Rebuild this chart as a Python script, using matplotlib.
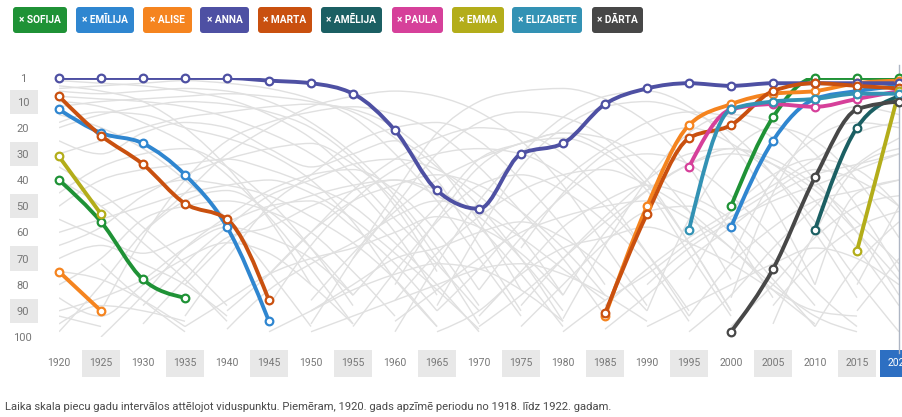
import matplotlib
matplotlib.use("Agg")
import matplotlib.pyplot as plt
import numpy as np
from matplotlib.path import Path
from matplotlib.patches import PathPatch, Rectangle, FancyBboxPatch

plt.rcParams['font.family'] = ['Roboto', 'DejaVu Sans']

# --- data -----------------------------------------------------------------
years = list(range(1920, 2021, 5))
rank_ticks = [1, 10, 20, 30, 40, 50, 60, 70, 80, 90, 100]

names = ["SOFIJA", "EMĪLIJA", "ALISE", "ANNA", "MARTA",
         "AMĒLIJA", "PAULA", "EMMA", "ELIZABETE", "DĀRTA"]
colors = ["#1f9236", "#2f86d0", "#f5841f", "#4e50a3", "#c9500f",
          "#1b5f63", "#d6409a", "#b3ad1a", "#3392b4", "#474747"]

# each name: list of (start year, ranks every 5 years)
sofija = [(1920, [40, 56, 78, 85]), (2000, [50, 16, 1, 1, 1])]
emilija = [(1920, [13, 22, 26, 38, 58, 94]), (2000, [58, 25, 9, 6, 4])]
alise = [(1920, [75, 90]), (1985, [92, 50, 19, 11, 7, 6, 3, 2])]
anna = [(1920, [1, 1, 1, 1, 1, 2, 3, 7, 21, 44, 51, 30, 26, 11, 5, 3, 4, 3, 3, 3, 3])]
marta = [(1920, [8, 23, 34, 49, 55, 86]), (1985, [91, 53, 24, 19, 6, 3, 4, 5])]
amelija = [(2010, [59, 20, 8])]
paula = [(1995, [35, 13, 11, 12, 9, 6])]
emma = [(1920, [31, 53]), (2015, [67, 6])]
elizabete = [(1995, [59, 13, 10, 9, 7, 7])]
darta = [(2000, [98, 74, 39, 13, 10])]
series = [sofija, emilija, alise, anna, marta, amelija, paula, emma, elizabete, darta]

# other names in the top 100 (grey background)
other_names = [
    (1920, [2, 3, 4, 6, 9, 15, 24, 38, 55, 72, 90]),
    (1920, [5, 4, 3, 2, 3, 5, 9, 16, 30, 48, 70, 92]),
    (1950, [95, 70, 45, 22, 10, 6, 5, 9, 18, 35, 60, 85]),
    (1920, [15, 20, 28, 40, 55, 75, 96]),
    (1920, [98, 80, 60, 45, 30, 20, 12, 8, 6, 8, 14, 25, 42, 65, 88]),
    (1925, [90, 62, 40, 25, 18, 14, 12, 15, 22, 35, 52, 70, 92]),
    (1920, [60, 55, 50, 45, 42, 40, 45, 55, 68, 82, 97]),
    (1920, [25, 30, 22, 18, 20, 28, 35, 30, 25, 35, 50, 70, 94]),
    (1965, [88, 60, 35, 20, 12, 10, 14, 22, 38, 60, 85]),
    (1980, [93, 65, 40, 22, 15, 18, 30, 50, 75]),
    (1990, [90, 55, 30, 20, 25, 40, 62]),
    (2000, [85, 45, 20, 12, 15]),
    (2005, [95, 60, 35, 28]),
    (2010, [80, 45, 40]),
    (1920, [70, 65, 72, 80, 92]),
    (1920, [45, 35, 30, 28, 35, 48, 66, 88]),
    (1920, [35, 45, 58, 72, 88]),
    (1920, [80, 70, 55, 50, 48, 52, 60, 75, 92]),
    (1930, [95, 78, 62, 58, 50, 44, 40, 46, 58, 76, 96]),
    (1935, [92, 70, 50, 38, 26, 20, 18, 25, 40, 58, 80]),
    (1945, [88, 65, 48, 36, 30, 28, 30, 38, 50, 68, 90]),
    (1955, [96, 75, 56, 42, 38, 44, 56, 72, 94]),
    (1970, [92, 75, 58, 48, 42, 46, 55, 70, 88]),
    (1975, [96, 80, 64, 52, 50, 60, 78, 96]),
    (1920, [10, 12, 18, 26, 38, 54, 74, 95]),
    (1920, [20, 15, 12, 10, 11, 14, 20, 32, 50, 75]),
    (1920, [50, 40, 36, 34, 32, 36, 42, 50, 64, 80, 98]),
    (1920, [90, 85, 78, 66, 58, 62, 70, 84]),
    (1940, [97, 82, 72, 64, 54, 48, 52, 62, 74, 86]),
    (1950, [90, 80, 70, 66, 60, 56, 62, 74, 90]),
    (1960, [94, 82, 70, 60, 54, 50, 48, 55, 66, 82, 95]),
    (1985, [97, 84, 70, 58, 46, 38, 34, 30]),
    (1995, [92, 72, 58, 48, 44, 40]),
    (1990, [96, 88, 80, 72, 66, 70, 80]),
    (1920, [8, 9, 10, 12, 16, 22, 30, 42, 60, 84]),
    (1955, [70, 50, 30, 18, 14, 16, 24, 40, 64, 90]),
    (1960, [80, 55, 35, 26, 24, 30, 44, 68, 92]),
    (1975, [66, 45, 30, 24, 20, 26, 38, 56, 78, 98]),
    (2000, [70, 40, 24, 18, 20]),
    (1995, [78, 52, 38, 32, 36, 50]),
    (1925, [72, 86, 98]),
    (1930, [60, 48, 44, 52, 66, 84]),
    (1965, [98, 90, 76, 66, 62, 58, 64, 72, 82, 90, 92]),
    (1920, [30, 25, 20, 16, 14, 12, 11, 13, 20, 34, 56, 82]),
    (1920, [12, 10, 9, 8, 7, 8, 10, 14, 24, 40, 65, 90]),
    (1920, [4, 6, 10, 20, 35, 55, 80]),
    (1920, [6, 7, 6, 5, 6, 10, 18, 30, 46, 66, 88]),
    (1920, [18, 14, 15, 20, 24, 30, 40, 56, 78, 96]),
    (1920, [55, 62, 68, 62, 56, 50, 48, 58, 72, 90]),
    (1920, [65, 58, 46, 38, 32, 28, 26, 34, 48, 70, 95]),
    (1920, [85, 92, 80, 70, 64, 68, 80, 95]),
    (1920, [95, 88, 90, 94]),
    (1925, [100, 84, 66, 54, 44, 38, 36, 44, 60, 82]),
    (1930, [88, 72, 58, 46, 40, 34, 32, 36, 46, 62, 84]),
    (1935, [96, 86, 76, 70, 66, 60, 54, 58, 68, 84]),
    (1940, [90, 76, 60, 44, 32, 24, 20, 22, 30, 46, 68, 92]),
    (1945, [98, 90, 82, 76, 72, 74, 82, 94]),
    (1950, [86, 68, 52, 40, 32, 26, 22, 28, 42, 64, 90]),
    (1955, [84, 66, 50, 32, 26, 22, 24, 34, 52, 78]),
    (1960, [98, 72, 48, 30, 16, 8, 6, 12, 26, 50, 80]),
    (1965, [90, 74, 56, 40, 28, 18, 14, 16, 24, 40, 60, 84]),
    (1970, [96, 84, 70, 56, 44, 34, 28, 32, 42, 56, 72]),
    (1975, [88, 70, 54, 40, 30, 28, 34, 48, 66, 88]),
    (1980, [98, 86, 76, 64, 54, 44, 36, 40, 50]),
    (1985, [88, 74, 62, 52, 42, 32, 22, 18]),
    (1990, [80, 66, 56, 48, 42, 36, 30]),
    (1995, [98, 84, 66, 50, 34, 24]),
    (2000, [96, 80, 62, 50, 46]),
    (2005, [88, 70, 58, 52]),
    (2010, [96, 72, 56]),
    (2015, [90, 70]),
    (2015, [80, 50]),
    (1920, [40, 50, 64, 78, 94]),
    (1920, [75, 78, 86, 96]),
    (1935, [80, 64, 52, 46, 42, 40, 44, 54, 70, 90]),
    (1945, [76, 60, 48, 42, 38, 42, 52, 66, 84]),
    (1960, [86, 68, 54, 44, 38, 36, 42, 52, 66, 80, 92, 98]),
    (1970, [82, 62, 46, 34, 30, 34, 46, 62, 82, 96]),
    (1980, [84, 60, 44, 34, 30, 34, 44, 60, 78]),
    (1950, [98, 92, 86, 80, 74, 72, 76, 84, 94]),
    (1925, [50, 44, 40, 42, 46, 54, 64, 78, 96]),
    (1920, [92, 96]),
]

footnote = ("Laika skala piecu gadu intervālos attēlojot viduspunktu. Piemēram, "
            "1920. gads apzīmē periodu no 1918. līdz 1922. gadam.")


def monotone_path(xs, ys):
    # smooth curve through the points (same shape as d3 curveMonotoneX)
    xs = np.asarray(xs, float)
    ys = np.asarray(ys, float)
    n = len(xs)
    h = np.diff(xs)
    s = np.diff(ys) / h
    t = np.zeros(n)
    for i in range(1, n - 1):
        p = (s[i - 1] * h[i] + s[i] * h[i - 1]) / (h[i - 1] + h[i])
        t[i] = (np.sign(s[i - 1]) + np.sign(s[i])) * min(abs(s[i - 1]), abs(s[i]), 0.5 * abs(p))
    if n == 2:
        t[0] = t[1] = s[0]
    else:
        t[0] = (3 * s[0] - t[1]) / 2
        t[-1] = (3 * s[-1] - t[-2]) / 2
    verts = [(xs[0], ys[0])]
    codes = [Path.MOVETO]
    for i in range(n - 1):
        d = h[i] / 3
        verts += [(xs[i] + d, ys[i] + d * t[i]),
                  (xs[i + 1] - d, ys[i + 1] - d * t[i + 1]),
                  (xs[i + 1], ys[i + 1])]
        codes += [Path.CURVE4] * 3
    return Path(verts, codes)


fig = plt.figure(figsize=(9.03, 4.17), dpi=100)
W, H = 903, 417
ax = fig.add_axes([59 / W, 1 - 337 / H, 840 / W, 259 / H])
ax.set_xlim(1920, 2020)
ax.set_ylim(100, 1)
for sp in ax.spines.values():
    sp.set_visible(False)

# grey lines
for start, vals in other_names:
    xs = [start + 5 * i for i in range(len(vals))]
    ax.add_patch(PathPatch(monotone_path(xs, vals), fill=False,
                           edgecolor="#e0e0e0", lw=1.0, zorder=1))

# highlighted names
for segs, col in zip(series, colors):
    for start, vals in segs:
        xs = [start + 5 * i for i in range(len(vals))]
        ax.add_patch(PathPatch(monotone_path(xs, vals), fill=False, edgecolor=col,
                               lw=2.8, capstyle='round', joinstyle='round', zorder=3))
        ax.plot(xs, vals, 'o', ms=5.5, mfc='white', mec=col, mew=1.6,
                zorder=4, clip_on=False)

# current year marker
ax.axvline(2020, ymin=-0.06, ymax=1.05, color="#aeb6c4", lw=1, zorder=2, clip_on=False)

# axis ticks
ax.set_yticks(rank_ticks)
ax.set_yticklabels([str(r) for r in rank_ticks])
ax.tick_params(axis='y', length=0, pad=26, labelsize=8, labelcolor="#777777")
for lbl in ax.get_yticklabels():
    lbl.set_horizontalalignment('center')
ax.set_xticks(years)
ax.set_xticklabels([str(y) for y in years])
ax.tick_params(axis='x', length=0, pad=19, labelsize=7.5, labelcolor="#777777")
for lbl in ax.get_xticklabels():
    lbl.set_verticalalignment('center')
ax.get_xticklabels()[-1].set_color("white")

ytr = ax.get_yaxis_transform()
for r in rank_ticks[1::2]:
    ax.add_patch(Rectangle((-49 / 840, r - 4.6), 28 / 840, 9.2, transform=ytr,
                           facecolor="#e8e8e8", edgecolor='none', clip_on=False, zorder=0))
xtr = ax.get_xaxis_transform()
for y in years[1::2] + [2020]:
    fc = "#2d6fc2" if y == 2020 else "#e8e8e8"
    ax.add_patch(Rectangle((y - 2.3, -0.155), 4.6, 0.105, transform=xtr,
                           facecolor=fc, edgecolor='none', clip_on=False, zorder=0))

# name buttons at the top
tag_x = [13, 76, 143, 200, 258, 321, 392, 452, 512, 592]
tag_w = [54, 58, 49, 49, 54, 61, 51, 52, 70, 51]
for name, col, x0, w in zip(names, colors, tag_x, tag_w):
    fig.add_artist(FancyBboxPatch((x0 / 100, (H - 33) / 100), w / 100, 26 / 100,
                                  boxstyle="round,pad=0,rounding_size=0.03",
                                  transform=fig.dpi_scale_trans,
                                  facecolor=col, edgecolor='none'))
    fig.text((x0 + w / 2) / W, 1 - 20 / H, "× " + name, color='white',
             fontsize=7.3, fontweight='bold', ha='center', va='center')

fig.text(5 / W, 1 - 407 / H, footnote, fontsize=8.1, color="#4a4a4a",
         ha='left', va='center')

fig.savefig("out.png", dpi=100)
